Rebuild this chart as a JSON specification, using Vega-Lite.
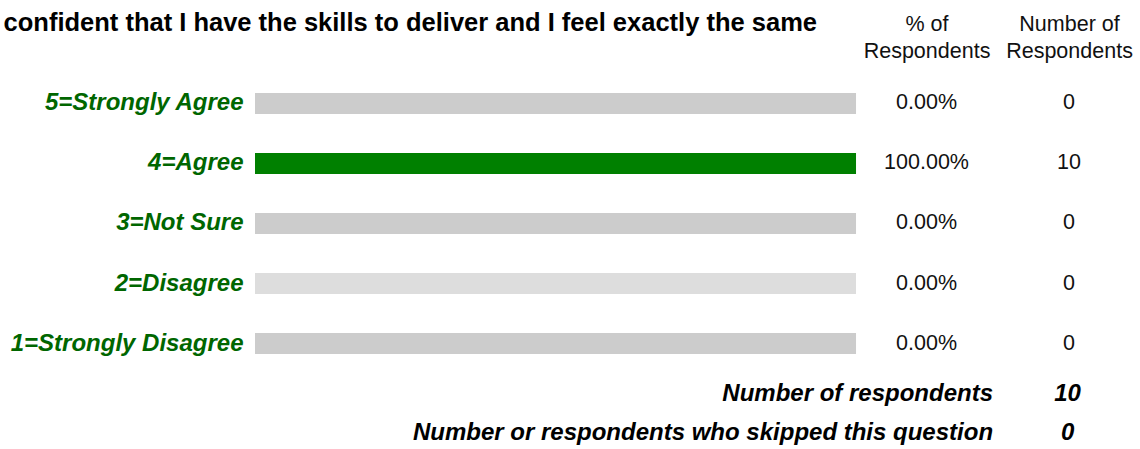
{
  "$schema": "https://vega.github.io/schema/vega-lite/v6.json",
  "width": 885,
  "height": 376,
  "autosize": {"type": "none"},
  "padding": {"left": 255, "top": 73, "right": 0, "bottom": 0},
  "background": "#ffffff",
  "config": {"view": {"stroke": null}, "font": "Liberation Sans"},
  "title": {
    "text": "confident that I have the skills to deliver and I feel exactly the same",
    "anchor": "end",
    "frame": "group",
    "orient": "top",
    "font": "Liberation Sans",
    "fontSize": 25.5,
    "fontWeight": "bold",
    "color": "#000000",
    "baseline": "alphabetic",
    "dx": -323,
    "dy": 47
  },
  "datasets": {
    "answers": [
      {"answer": "5=Strongly Agree", "score": 5, "pct": 0.0, "count": 0},
      {"answer": "4=Agree", "score": 4, "pct": 1.0, "count": 10},
      {"answer": "3=Not Sure", "score": 3, "pct": 0.0, "count": 0},
      {"answer": "2=Disagree", "score": 2, "pct": 0.0, "count": 0},
      {"answer": "1=Strongly Disagree", "score": 1, "pct": 0.0, "count": 0}
    ],
    "totals": [
      {"label": "Number of respondents", "value": 10},
      {"label": "Number or respondents who skipped this question", "value": 0}
    ]
  },
  "resolve": {"scale": {"y": "independent"}},
  "layer": [
    {
      "data": {"name": "answers"},
      "encoding": {
        "y": {
          "field": "answer",
          "type": "nominal",
          "sort": {"field": "score", "order": "descending"},
          "scale": {"paddingInner": 0.65, "paddingOuter": 0.9583, "align": 0.1739},
          "axis": {
            "title": null,
            "ticks": false,
            "domain": false,
            "grid": false,
            "labelPadding": 12,
            "labelFont": "Liberation Sans",
            "labelFontSize": 24,
            "labelFontWeight": "bold",
            "labelFontStyle": "italic",
            "labelColor": "#006600",
            "labelLimit": 400
          }
        }
      },
      "layer": [
        {
          "mark": {"type": "bar"},
          "encoding": {
            "x": {
              "datum": 0,
              "type": "quantitative",
              "scale": {"domain": [0, 1.4725], "nice": false, "zero": true},
              "axis": {
                "orient": "top",
                "title": null,
                "values": [1.1173, 1.3544],
                "labelExpr": "datum.value < 1.2 ? ['% of', 'Respondents'] : ['Number of', 'Respondents']",
                "ticks": false,
                "domain": false,
                "grid": false,
                "labelFont": "Liberation Sans",
                "labelFontSize": 21.5,
                "labelColor": "#111111",
                "labelLineHeight": 27,
                "labelBaseline": "alphabetic",
                "labelPadding": 43,
                "labelFlush": false,
                "labelOverlap": false,
                "labelBound": false
              }
            },
            "x2": {"datum": 1},
            "color": {
              "condition": {"test": "datum.score % 2 == 1", "value": "#cccccc"},
              "value": "#dddddd"
            }
          }
        },
        {
          "mark": {"type": "bar", "color": "#008000"},
          "encoding": {
            "x": {"field": "pct", "type": "quantitative", "stack": null}
          }
        },
        {
          "mark": {"type": "text", "align": "center", "baseline": "middle", "font": "Liberation Sans", "fontSize": 21.5, "color": "#111111"},
          "encoding": {
            "x": {"datum": 1.1173},
            "text": {"field": "pct", "type": "quantitative", "format": ".2%"}
          }
        },
        {
          "mark": {"type": "text", "align": "center", "baseline": "middle", "font": "Liberation Sans", "fontSize": 21.5, "color": "#111111"},
          "encoding": {
            "x": {"datum": 1.3544},
            "text": {"field": "count", "type": "quantitative"}
          }
        }
      ]
    },
    {
      "data": {"name": "totals"},
      "encoding": {
        "y": {
          "field": "label",
          "type": "nominal",
          "sort": null,
          "scale": {"type": "point", "range": [328, 367], "padding": 0},
          "axis": null
        }
      },
      "layer": [
        {
          "mark": {"type": "text", "align": "right", "baseline": "alphabetic", "font": "Liberation Sans", "fontSize": 24, "fontWeight": "bold", "fontStyle": "italic", "color": "#000000"},
          "encoding": {
            "x": {"datum": 1.228},
            "text": {"field": "label", "type": "nominal"}
          }
        },
        {
          "mark": {"type": "text", "align": "center", "baseline": "alphabetic", "font": "Liberation Sans", "fontSize": 24, "fontWeight": "bold", "fontStyle": "italic", "color": "#000000"},
          "encoding": {
            "x": {"datum": 1.352},
            "text": {"field": "value", "type": "quantitative"}
          }
        }
      ]
    }
  ]
}
